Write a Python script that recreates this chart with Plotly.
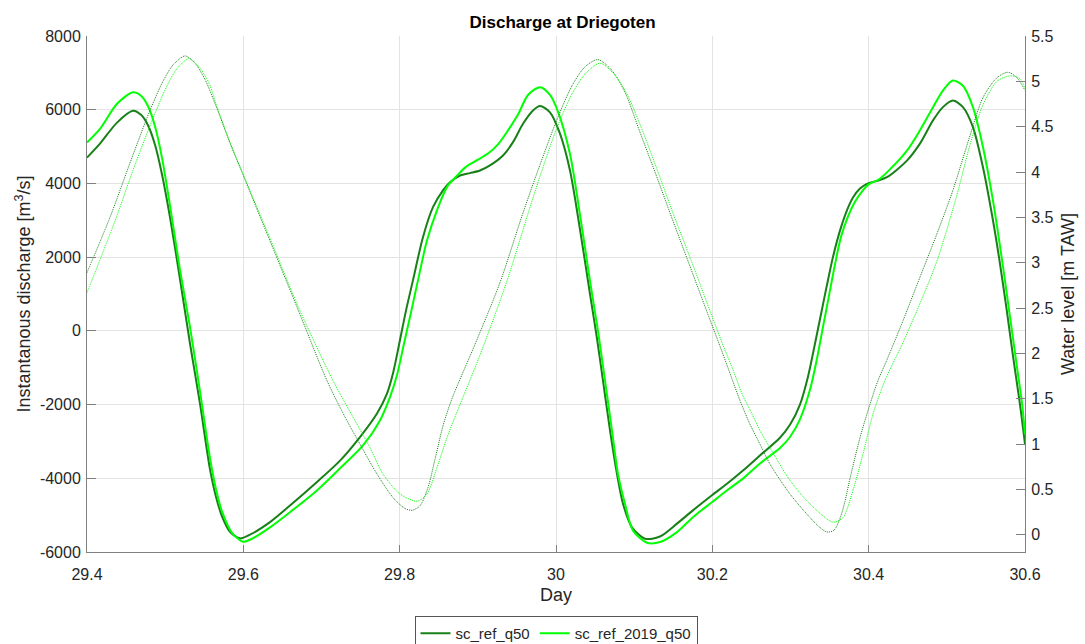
import plotly.graph_objects as go

# ---------------- data ----------------
q_ref_day = [29.4000, 29.4166, 29.4384, 29.4588, 29.4691, 29.4780, 29.4870, 29.4959, 29.5062, 29.5190,
             29.5318, 29.5446, 29.5573, 29.5650, 29.5727, 29.5829, 29.5957, 29.6085, 29.6341, 29.6597,
             29.6942, 29.7237, 29.7492, 29.7710, 29.7838, 29.7915, 29.8004, 29.8081, 29.8170, 29.8298,
             29.8426, 29.8554, 29.8644, 29.8772, 29.8900, 29.9027, 29.9155, 29.9322, 29.9450, 29.9578,
             29.9706, 29.9795, 29.9923, 30.0051, 30.0179, 30.0307, 30.0435, 30.0524, 30.0601, 30.0691,
             30.0780, 30.0857, 30.0972, 30.1138, 30.1330, 30.1548, 30.1752, 30.1995, 30.2187, 30.2392,
             30.2609, 30.2865, 30.2993, 30.3121, 30.3223, 30.3313, 30.3390, 30.3467, 30.3543, 30.3633,
             30.3722, 30.3799, 30.3889, 30.3978, 30.4106, 30.4234, 30.4490, 30.4656, 30.4823, 30.4950,
             30.5078, 30.5206, 30.5334, 30.5462, 30.5590, 30.5680, 30.5769, 30.5846, 30.5936, 30.6000]
q_ref = [4700, 5080, 5650, 5970, 5860, 5580, 5050, 4250, 3080, 1400,
         -350, -1980, -3750, -4500, -5030, -5450, -5630, -5530, -5190, -4740,
         -4100, -3520, -2880, -2240, -1700, -1150, -250, 550, 1370, 2540,
         3355, 3810, 4030, 4215, 4280, 4350, 4490, 4760, 5120, 5620,
         5980, 6100, 5930, 5350, 4350, 2750, 1000, -200, -1350, -2700,
         -3880, -4690, -5330, -5640, -5580, -5230, -4870, -4460, -4150, -3790,
         -3380, -2900, -2550, -2000, -1250, -350, 450, 1250, 2000, 2720,
         3270, 3620, 3860, 3990, 4070, 4170, 4620, 5080, 5710, 6070,
         6250, 6070, 5530, 4440, 3000, 1820, 520, -680, -2000, -3070]

q_2019_day = [29.4000, 29.4166, 29.4384, 29.4588, 29.4691, 29.4780, 29.4870, 29.4959, 29.5062, 29.5190,
              29.5318, 29.5446, 29.5573, 29.5650, 29.5727, 29.5855, 29.5996, 29.6111, 29.6341, 29.6597,
              29.6942, 29.7237, 29.7531, 29.7748, 29.7876, 29.7966, 29.8055, 29.8145, 29.8234, 29.8349,
              29.8477, 29.8605, 29.8720, 29.8848, 29.8989, 29.9130, 29.9258, 29.9386, 29.9514, 29.9642,
              29.9795, 29.9923, 30.0025, 30.0179, 30.0307, 30.0435, 30.0537, 30.0627, 30.0716, 30.0793,
              30.0882, 30.0985, 30.1164, 30.1330, 30.1548, 30.1752, 30.1995, 30.2187, 30.2392, 30.2609,
              30.2865, 30.2993, 30.3121, 30.3249, 30.3339, 30.3415, 30.3492, 30.3569, 30.3646, 30.3735,
              30.3825, 30.3914, 30.4004, 30.4132, 30.4234, 30.4490, 30.4656, 30.4823, 30.4950, 30.5078,
              30.5206, 30.5334, 30.5462, 30.5590, 30.5718, 30.5808, 30.5897, 30.5961, 30.6000]
q_2019 = [5110, 5480, 6160, 6475, 6380, 6100, 5550, 4700, 3400, 1650,
          100, -1650, -3450, -4300, -4900, -5480, -5720, -5640, -5330, -4920,
          -4330, -3730, -3110, -2430, -1800, -1200, -350, 500, 1370, 2450,
          3270, 3900, 4180, 4450, 4630, 4810, 5060, 5440, 5870, 6400,
          6610, 6400, 5950, 4800, 3150, 1350, 0, -1350, -2700, -3880,
          -4690, -5420, -5750, -5730, -5460, -5055, -4650, -4330, -4010, -3600,
          -3180, -2880, -2400, -1600, -750, 100, 950, 1800, 2550, 3100,
          3500, 3780, 3980, 4110, 4300, 4890, 5440, 6070, 6520, 6790,
          6650, 6070, 4990, 3540, 1750, 380, -980, -1950, -2800]

wl_ref_day = [29.4000, 29.4294, 29.4550, 29.4806, 29.4972, 29.5100, 29.5254, 29.5382, 29.5510, 29.5663,
              29.5829, 29.5996, 29.6175, 29.6341, 29.6725, 29.7070, 29.7300, 29.7492, 29.7710, 29.7915,
              29.8068, 29.8158, 29.8260, 29.8362, 29.8465, 29.8554, 29.8669, 29.8964, 29.9283, 29.9578,
              29.9795, 30.0013, 30.0204, 30.0371, 30.0537, 30.0716, 30.0882, 30.1074, 30.1279, 30.1484,
              30.1714, 30.1944, 30.2098, 30.2226, 30.2354, 30.2481, 30.2609, 30.2737, 30.2993, 30.3249,
              30.3377, 30.3467, 30.3556, 30.3633, 30.3697, 30.3761, 30.3889, 30.4017, 30.4119, 30.4234,
              30.4439, 30.4656, 30.4874, 30.5078, 30.5296, 30.5462, 30.5641, 30.5782, 30.5897, 30.6000]
wl_ref = [2.89, 3.50, 4.10, 4.68, 5.00, 5.18, 5.28, 5.20, 5.02, 4.70,
          4.32, 3.97, 3.59, 3.24, 2.43, 1.70, 1.30, 1.00, 0.67, 0.41,
          0.29, 0.27, 0.32, 0.52, 0.88, 1.20, 1.50, 2.10, 2.78, 3.55,
          4.08, 4.58, 4.95, 5.16, 5.24, 5.12, 4.88, 4.44, 3.97, 3.49,
          2.96, 2.43, 2.08, 1.78, 1.48, 1.22, 1.00, 0.78, 0.45, 0.19,
          0.08, 0.03, 0.05, 0.18, 0.37, 0.62, 1.07, 1.44, 1.70, 1.93,
          2.36, 2.84, 3.32, 3.80, 4.40, 4.82, 5.04, 5.10, 5.04, 4.90]

wl_2019_day = [29.4000, 29.4358, 29.4601, 29.4857, 29.5023, 29.5151, 29.5305, 29.5433, 29.5561, 29.5663,
               29.5829, 29.5996, 29.6175, 29.6341, 29.6725, 29.7147, 29.7454, 29.7620, 29.7787, 29.8004,
               29.8222, 29.8349, 29.8477, 29.8605, 29.8708, 29.9027, 29.9373, 29.9667, 29.9833, 30.0013,
               30.0204, 30.0371, 30.0563, 30.0742, 30.0908, 30.1100, 30.1305, 30.1509, 30.1740, 30.1970,
               30.2123, 30.2264, 30.2392, 30.2481, 30.2609, 30.2737, 30.2993, 30.3249, 30.3543, 30.3671,
               30.3799, 30.3927, 30.4055, 30.4208, 30.4439, 30.4656, 30.4874, 30.5130, 30.5296, 30.5462,
               30.5641, 30.5808, 30.5936, 30.6000]
wl_2019 = [2.67, 3.46, 4.05, 4.62, 4.95, 5.14, 5.25, 5.16, 4.98, 4.72,
           4.33, 3.98, 3.61, 3.27, 2.47, 1.70, 1.22, 0.96, 0.67, 0.45,
           0.37, 0.45, 0.74, 1.07, 1.30, 1.98, 2.80, 3.61, 4.05, 4.49,
           4.86, 5.08, 5.20, 5.08, 4.86, 4.47, 4.00, 3.52, 3.00, 2.47,
           2.12, 1.82, 1.53, 1.38, 1.15, 0.96, 0.60, 0.34, 0.14, 0.19,
           0.49, 0.89, 1.33, 1.70, 2.12, 2.55, 3.02, 3.75, 4.30, 4.74,
           5.00, 5.06, 5.03, 4.92]

x_ticks = [29.4, 29.6, 29.8, 30.0, 30.2, 30.4, 30.6]
x_tick_labels = ["29.4", "29.6", "29.8", "30", "30.2", "30.4", "30.6"]
yl_ticks = [-6000, -4000, -2000, 0, 2000, 4000, 6000, 8000]
yl_tick_labels = ["-6000", "-4000", "-2000", "0", "2000", "4000", "6000", "8000"]
yr_ticks = [0, 0.5, 1, 1.5, 2, 2.5, 3, 3.5, 4, 4.5, 5, 5.5]
yr_tick_labels = ["0", "0.5", "1", "1.5", "2", "2.5", "3", "3.5", "4", "4.5", "5", "5.5"]

# ---------------- styling ----------------
DARK = "rgb(24,128,24)"
BRIGHT = "rgb(0,255,0)"
FONT = "Liberation Sans, Arial, sans-serif"
TXT = "#262626"
AXC = "#808080"
GRID = "#e3e3e3"

fig = go.Figure()
fig.add_trace(go.Scatter(x=q_ref_day, y=q_ref, name="sc_ref_q50", mode="lines",
                         line=dict(color=DARK, width=2, shape="spline", smoothing=0.8)))
fig.add_trace(go.Scatter(x=q_2019_day, y=q_2019, name="sc_ref_2019_q50", mode="lines",
                         line=dict(color=BRIGHT, width=2, shape="spline", smoothing=0.8)))
fig.add_trace(go.Scatter(x=wl_ref_day, y=wl_ref, name="wl_ref_q50", mode="lines", yaxis="y2",
                         showlegend=False,
                         line=dict(color=DARK, width=1, dash="1px,1px", shape="spline", smoothing=0.8)))
fig.add_trace(go.Scatter(x=wl_2019_day, y=wl_2019, name="wl_ref_2019_q50", mode="lines", yaxis="y2",
                         showlegend=False,
                         line=dict(color=BRIGHT, width=1, dash="1px,1px", shape="spline", smoothing=0.8)))

fig.update_layout(
    width=1085, height=644,
    margin=dict(l=87, r=60, t=36, b=92, autoexpand=False),
    paper_bgcolor="white", plot_bgcolor="white",
    font=dict(family=FONT, size=16, color=TXT),
    title=dict(text="<b>Discharge at Driegoten</b>", x=0.5185, xref="container", xanchor="center",
               y=1 - 22 / 644, yref="container", yanchor="middle",
               font=dict(family=FONT, size=17, color="black")),
    xaxis=dict(range=[29.4, 30.6], tickvals=x_ticks, ticktext=x_tick_labels,
               showgrid=True, gridcolor=GRID, gridwidth=1, zeroline=False,
               showline=True, linecolor=AXC, linewidth=1, mirror=False,
               ticks="inside", ticklen=7, tickcolor=AXC, ticklabelstandoff=8,
               title=dict(text="Day", font=dict(size=18, color=TXT), standoff=6)),
    yaxis=dict(range=[-6000, 8000], tickvals=yl_ticks, ticktext=yl_tick_labels,
               showgrid=True, gridcolor=GRID, gridwidth=1, zeroline=False,
               showline=True, linecolor=AXC, linewidth=1, mirror=False,
               ticks="inside", ticklen=9, tickcolor=AXC, ticklabelstandoff=2,
               title=dict(text="Instantanous discharge [m<sup>3</sup>/s]", font=dict(size=18, color=TXT),
                          standoff=4)),
    yaxis2=dict(range=[-0.19, 5.5], tickvals=yr_ticks, ticktext=yr_tick_labels,
                overlaying="y", side="right", showgrid=False, zeroline=False,
                showline=True, linecolor=AXC, linewidth=1,
                ticks="inside", ticklen=9, tickcolor=AXC, ticklabelstandoff=2,
                title=dict(text="Water level [m TAW]", font=dict(size=18, color=TXT), standoff=8)),
    legend=dict(orientation="h", x=0.5, xanchor="center", y=-0.124, yanchor="top",
                bordercolor="#555555", borderwidth=1, bgcolor="white",
                font=dict(size=15, color=TXT)),
    showlegend=True,
)

fig.write_html("out.html")
